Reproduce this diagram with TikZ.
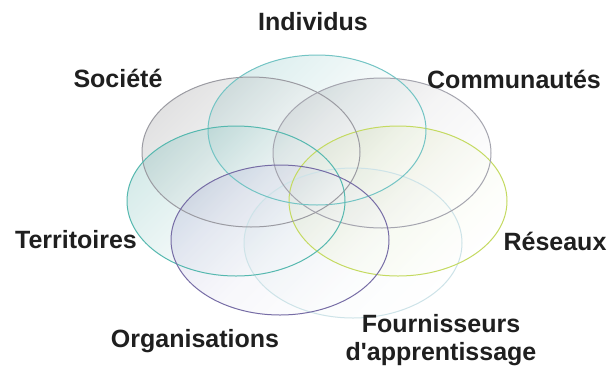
\documentclass[tikz,border=0pt]{standalone}
\usepackage{fontspec}
\setmainfont{Liberation Sans}[Ligatures=TeXOff]
\definecolor{socL}{RGB}{155,155,162}
\definecolor{indL}{RGB}{115,196,196}
\definecolor{comL}{RGB}{165,165,175}
\definecolor{terL}{RGB}{85,184,175}
\definecolor{resL}{RGB}{196,218,96}
\definecolor{orgL}{RGB}{118,108,165}
\definecolor{fouL}{RGB}{205,227,232}
\definecolor{socF}{RGB}{160,160,162}
\definecolor{indF}{RGB}{140,200,200}
\definecolor{comF}{RGB}{145,145,150}
\definecolor{terF}{RGB}{120,190,185}
\definecolor{resF}{RGB}{200,222,110}
\definecolor{orgF}{RGB}{175,175,215}
\definecolor{fouF}{RGB}{205,228,230}
\begin{document}
\begin{tikzpicture}[x=1pt,y=-1pt,
  lbl/.style={font=\fontsize{25}{28}\selectfont\bfseries, text=black!88, inner sep=0pt, align=center},
  ring/.style={line width=1pt},
  blob/.style={top color=#1, bottom color=white, middle color=#1!30!white, shading angle=45, fill opacity=0.3}]
\useasboundingbox (0,0) rectangle (610,368);
\fill[white] (0,0) rectangle (610,368);
% fills
\shade[blob=fouF] (353,243) ellipse [x radius=109pt, y radius=75pt];
\shade[blob=resF] (398,201) ellipse [x radius=109pt, y radius=75pt];
\shade[blob=comF] (382,153) ellipse [x radius=109pt, y radius=75pt];
\shade[blob=indF] (317,130) ellipse [x radius=109pt, y radius=75pt];
\shade[blob=socF] (251,152) ellipse [x radius=109pt, y radius=75pt];
\shade[blob=terF] (236,201) ellipse [x radius=109pt, y radius=75pt];
\shade[blob=orgF] (280,240) ellipse [x radius=109pt, y radius=75pt];
% outlines
\draw[ring, fouL] (353,243) ellipse [x radius=109pt, y radius=75pt];
\draw[ring, resL] (398,201) ellipse [x radius=109pt, y radius=75pt];
\draw[ring, comL] (382,153) ellipse [x radius=109pt, y radius=75pt];
\draw[ring, indL] (317,130) ellipse [x radius=109pt, y radius=75pt];
\draw[ring, socL] (251,152) ellipse [x radius=109pt, y radius=75pt];
\draw[ring, terL] (236,201) ellipse [x radius=109pt, y radius=75pt];
\draw[ring, orgL] (280,240) ellipse [x radius=109pt, y radius=75pt];
% labels
\node[lbl] (ind) at (313,22) {Individus};
\node[lbl] (soc) at (118,78) {Société};
\node[lbl] (com) at (514,79) {Communautés};
\node[lbl] (ter) at (76,240) {Territoires};
\node[lbl] (res) at (555,241) {Réseaux};
\node[lbl] (org) at (195,341) {Organisations};
\node[lbl] (fou) at (441,340) {Fournisseurs\\d'apprentissage};
\end{tikzpicture}
\end{document}
